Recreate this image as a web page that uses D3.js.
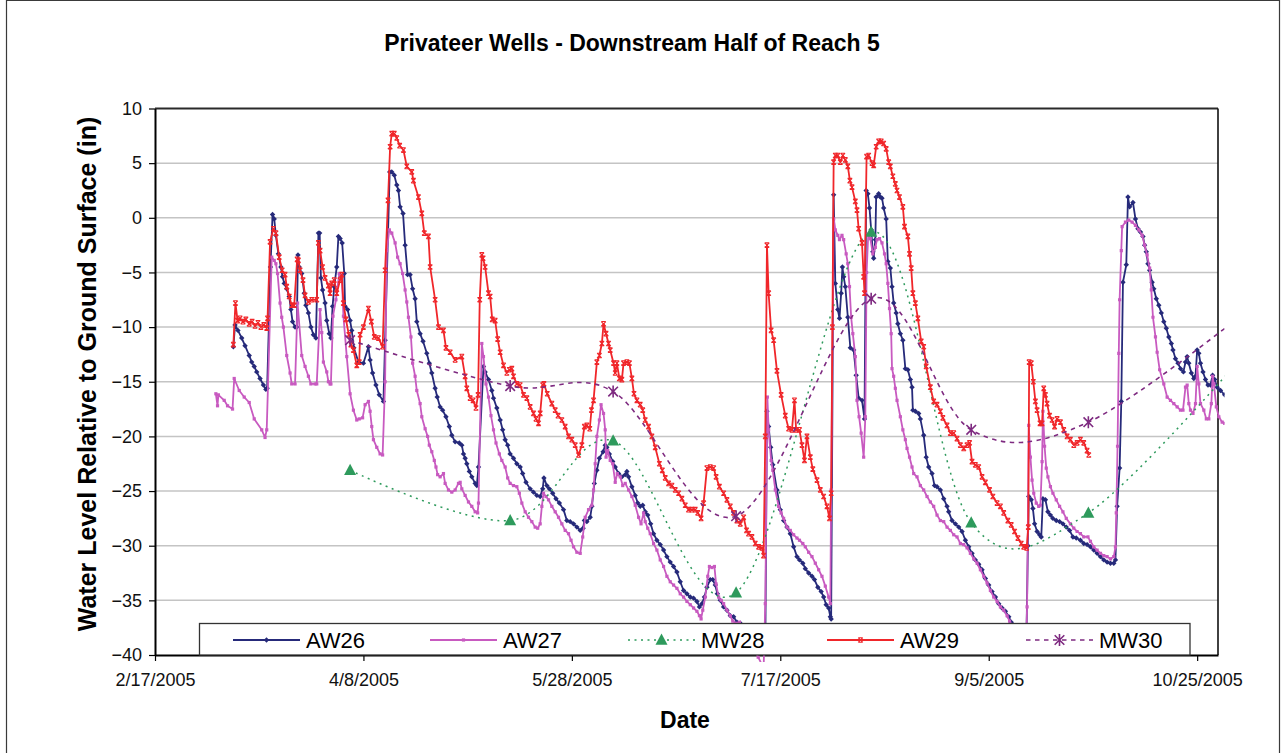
<!DOCTYPE html>
<html><head><meta charset="utf-8">
<script src="https://cdn.jsdelivr.net/npm/d3@7"></script>
<style>
html,body{margin:0;padding:0;background:#fff;}
svg{display:block;font-family:"Liberation Sans",Arial,Helvetica,sans-serif;}
</style></head><body>
<svg id="chart" width="1282" height="753"></svg>
<script>
// ---------------- data ----------------
const chartTitle = "Privateer Wells - Downstream Half of Reach 5";
const yAxisTitle = "Water Level Relative to Ground Surface (in)";
const xAxisTitle = "Date";
const axisStart = "2/17/2005";
const axisEnd = "10/30/2005";
const xTickLabels = ["2/17/2005","4/8/2005","5/28/2005","7/17/2005","9/5/2005","10/25/2005"];
const yTicks = [10,5,0,-5,-10,-15,-20,-25,-30,-35,-40];
const seriesNames = ["AW26","AW27","MW28","AW29","MW30"];

// [days after 2/17/2005, water level (in)]
const aw26 = [[18.8,-11.8],[19.2,-9.8],[19.9,-10.3],[20.8,-11.0],[21.6,-11.7],[22.6,-12.6],[23.2,-13.2],[23.8,-13.6],[24.4,-14.1],[25.2,-14.7],[26.0,-15.3],[26.6,-15.7],[26.9,-15.6],[27.7,-4.5],[28.2,0.3],[28.6,-0.1],[29.0,-1.6],[29.6,-3.3],[30.2,-4.5],[30.6,-5.4],[31.0,-6.0],[31.6,-6.5],[32.2,-7.2],[32.6,-8.4],[33.0,-9.5],[33.6,-10.0],[34.0,-10.0],[34.3,-3.4],[34.6,-4.5],[35.2,-5.1],[35.8,-6.9],[36.2,-8.0],[36.8,-8.7],[37.4,-10.0],[38.0,-10.7],[38.6,-11.0],[39.2,-1.4],[39.5,-1.4],[39.8,-5.5],[40.2,-6.6],[40.8,-7.8],[41.2,-9.4],[41.8,-10.6],[42.2,-11.0],[42.6,-8.1],[43.0,-6.3],[43.6,-4.5],[44.0,-1.7],[44.4,-1.9],[44.9,-2.3],[45.4,-5.1],[45.6,-8.1],[46.2,-8.4],[46.8,-9.4],[47.2,-10.3],[47.7,-11.9],[48.8,-13.2],[50.0,-13.3],[51.2,-11.8],[51.6,-13.0],[52.2,-14.2],[53.0,-15.3],[53.8,-16.2],[54.8,-16.8],[55.2,-11.2],[56.3,4.2],[56.8,4.2],[57.4,3.9],[58.0,3.0],[58.4,2.5],[58.8,1.0],[59.5,0.4],[60.0,-2.5],[60.6,-5.2],[61.2,-5.2],[61.8,-6.5],[62.4,-7.4],[62.8,-9.5],[63.6,-10.6],[64.3,-11.3],[65.2,-12.4],[65.8,-13.3],[66.4,-14.2],[67.2,-15.6],[67.7,-16.4],[68.4,-17.3],[69.0,-17.6],[69.8,-18.2],[70.6,-19.1],[71.2,-19.9],[72.0,-20.5],[73.0,-20.6],[73.6,-20.8],[74.0,-21.6],[74.4,-22.0],[74.8,-22.5],[75.4,-23.2],[76.0,-23.7],[76.8,-24.3],[77.2,-24.5],[77.6,-22.8],[78.8,-13.6],[79.2,-14.1],[80.0,-14.8],[80.8,-15.8],[81.2,-16.5],[82.0,-17.4],[82.8,-18.5],[83.4,-19.4],[84.0,-20.3],[84.6,-20.8],[85.2,-21.6],[86.0,-22.0],[86.8,-22.5],[87.6,-22.8],[88.2,-23.4],[89.0,-24.2],[90.0,-24.8],[90.8,-25.1],[91.6,-25.4],[92.4,-25.5],[93.0,-24.8],[93.3,-23.8],[94.0,-24.5],[94.6,-24.8],[95.4,-25.2],[96.2,-25.7],[97.0,-26.1],[98.0,-26.7],[98.8,-27.7],[99.6,-27.8],[100.4,-28.0],[101.2,-28.3],[102.0,-28.6],[102.7,-28.4],[103.0,-27.7],[103.6,-27.8],[104.4,-27.4],[104.8,-26.4],[105.4,-24.3],[106.0,-23.1],[106.6,-22.0],[107.5,-21.4],[108.0,-20.8],[108.4,-21.0],[109.0,-21.6],[109.8,-22.3],[110.4,-22.8],[111.2,-23.4],[112.0,-23.7],[112.8,-23.5],[113.2,-23.2],[113.6,-23.7],[114.4,-24.6],[115.2,-25.4],[115.8,-26.1],[116.4,-26.4],[117.0,-26.3],[117.6,-26.9],[118.2,-27.2],[118.9,-28.0],[119.6,-28.9],[120.4,-29.5],[121.2,-29.9],[122.0,-30.4],[122.8,-31.0],[123.6,-31.5],[124.4,-31.9],[125.2,-32.4],[126.0,-33.3],[126.8,-34.1],[127.6,-34.4],[128.4,-34.7],[129.2,-34.8],[130.0,-35.1],[130.6,-35.6],[131.2,-35.3],[131.8,-34.7],[132.4,-33.8],[133.2,-33.1],[133.8,-33.1],[134.4,-33.6],[134.9,-34.4],[135.6,-35.0],[136.4,-35.6],[137.2,-35.9],[138.0,-36.4],[138.8,-36.5],[139.6,-37.0],[140.4,-37.1],[141.9,-37.8],[143.3,-38.5],[144.8,-39.2],[145.9,-39.6],[146.4,-39.8],[146.8,-17.7],[147.2,-19.1],[147.7,-21.0],[148.2,-22.6],[149.2,-24.9],[150.0,-26.7],[150.8,-27.7],[151.6,-28.3],[152.4,-28.9],[153.2,-30.1],[154.0,-31.0],[154.6,-31.3],[155.4,-31.6],[156.0,-32.1],[156.8,-32.5],[157.6,-32.8],[158.2,-33.1],[159.0,-33.8],[159.8,-34.2],[160.4,-34.7],[161.0,-35.4],[161.6,-35.7],[162.0,-36.5],[162.2,-36.7],[162.8,2.1],[163.2,-6.0],[163.8,-8.4],[164.2,-9.2],[164.6,-6.9],[164.9,-4.5],[165.2,-5.4],[165.6,-6.3],[166.2,-9.1],[166.8,-11.9],[167.6,-12.1],[168.2,-14.4],[168.8,-16.5],[169.6,-16.7],[170.2,-18.4],[170.6,2.5],[171.0,2.2],[171.4,0.9],[171.8,-1.1],[172.2,-3.1],[172.4,-3.7],[172.8,-2.0],[173.0,1.9],[173.6,2.2],[174.0,1.9],[174.4,1.8],[174.8,0.9],[175.4,-0.1],[175.8,-4.0],[176.4,-4.6],[176.8,-6.3],[177.2,-7.8],[177.8,-8.7],[178.2,-9.7],[178.8,-10.6],[179.4,-11.2],[180.0,-13.8],[180.6,-13.9],[181.2,-14.8],[181.6,-15.5],[181.8,-17.6],[182.4,-17.7],[183.2,-17.9],[183.6,-18.4],[184.4,-19.9],[185.0,-21.9],[185.6,-22.8],[186.4,-23.4],[187.0,-24.5],[187.6,-24.6],[188.4,-24.9],[189.2,-25.7],[190.0,-26.4],[190.4,-26.9],[191.2,-27.7],[192.0,-28.0],[192.8,-28.3],[193.6,-28.7],[194.4,-29.5],[195.2,-30.1],[196.0,-30.7],[196.8,-31.3],[197.6,-31.7],[198.4,-32.2],[199.2,-33.0],[200.0,-33.6],[200.8,-34.2],[201.6,-34.7],[202.4,-35.3],[203.2,-35.7],[204.0,-36.0],[204.8,-36.5],[205.4,-37.0],[206.6,-37.8],[208.0,-38.8],[209.0,-39.5],[209.4,-30.0],[209.6,-25.5],[210.2,-25.8],[210.6,-26.6],[211.0,-28.0],[211.6,-28.7],[212.2,-29.0],[212.6,-29.2],[213.0,-25.7],[213.6,-25.8],[214.2,-26.9],[214.8,-27.2],[215.4,-27.5],[216.2,-27.7],[217.0,-27.8],[217.8,-28.0],[218.6,-28.3],[219.4,-28.6],[220.2,-29.2],[221.0,-29.3],[222.0,-29.5],[222.8,-29.8],[223.6,-29.9],[224.4,-30.1],[225.2,-30.4],[226.0,-30.7],[226.8,-31.0],[227.6,-31.3],[228.4,-31.5],[229.2,-31.6],[230.0,-31.6],[230.4,-31.3],[230.8,-26.4],[231.4,-22.9],[231.8,-16.8],[232.2,-5.9],[233.0,-4.3],[233.4,1.9],[233.8,1.0],[234.6,1.4],[235.2,-0.1],[235.8,-1.0],[236.4,-1.3],[237.0,-1.7],[237.4,-2.5],[237.8,-3.1],[238.2,-4.2],[238.6,-4.8],[239.2,-5.9],[239.6,-6.5],[240.2,-7.4],[240.8,-8.0],[241.4,-8.7],[242.0,-9.5],[242.6,-10.1],[243.2,-10.9],[243.8,-11.5],[244.2,-12.1],[244.8,-12.9],[245.4,-13.3],[246.0,-13.8],[246.7,-14.1],[247.2,-13.2],[247.6,-12.7],[248.0,-13.3],[248.6,-14.2],[249.2,-14.7],[249.6,-14.5],[250.0,-12.1],[250.4,-12.4],[250.8,-13.3],[251.4,-14.1],[252.0,-14.8],[252.6,-15.3],[253.2,-15.3],[253.7,-14.4],[254.2,-14.8],[254.8,-15.5],[255.6,-15.8],[256.6,-16.2]];

const aw27 = [[14.6,-16.1],[15.0,-17.2],[15.2,-16.2],[16.6,-16.7],[17.4,-17.2],[18.6,-17.5],[19.0,-14.7],[20.2,-15.8],[21.4,-16.4],[22.6,-16.9],[23.8,-18.4],[25.6,-19.4],[26.4,-20.1],[26.8,-19.4],[28.0,-3.6],[28.6,-3.9],[29.0,-4.2],[29.4,-5.1],[30.0,-7.8],[30.4,-9.1],[30.8,-10.0],[31.6,-12.6],[32.4,-14.2],[32.8,-15.2],[33.6,-15.2],[34.2,-7.8],[35.2,-12.6],[36.0,-13.6],[36.8,-14.5],[37.4,-15.2],[38.4,-15.2],[38.8,-15.2],[39.6,-8.4],[40.0,-10.5],[40.4,-13.2],[41.2,-14.1],[41.6,-15.0],[42.0,-15.2],[42.2,-15.2],[42.7,-9.0],[43.4,-7.5],[44.2,-5.1],[44.8,-5.3],[45.2,-9.0],[46.0,-12.7],[46.8,-16.1],[47.6,-17.6],[48.4,-18.5],[49.0,-18.4],[49.8,-18.3],[50.4,-17.1],[51.2,-16.8],[51.6,-17.7],[52.0,-19.1],[52.4,-20.3],[53.2,-21.0],[54.0,-21.6],[54.6,-21.7],[55.2,-15.0],[55.6,-3.0],[56.2,-1.1],[56.8,-1.4],[57.6,-2.3],[58.2,-3.6],[58.8,-4.2],[59.4,-5.1],[60.0,-6.6],[60.4,-7.7],[60.8,-9.1],[61.4,-10.9],[61.8,-13.3],[62.4,-14.5],[62.8,-15.8],[63.6,-17.0],[64.0,-18.2],[64.8,-19.3],[65.4,-20.0],[65.8,-20.8],[66.4,-21.4],[67.0,-22.2],[67.4,-22.8],[67.8,-23.5],[68.4,-23.7],[69.2,-23.4],[69.6,-24.3],[70.4,-24.9],[71.2,-25.1],[72.0,-24.9],[72.8,-24.3],[73.2,-24.2],[73.6,-24.8],[74.4,-25.4],[75.2,-26.0],[76.0,-26.4],[76.8,-26.9],[77.4,-27.0],[77.6,-26.1],[78.4,-11.5],[78.8,-12.7],[79.4,-15.2],[80.0,-16.4],[80.6,-18.1],[81.2,-19.4],[81.8,-20.6],[82.6,-21.6],[83.2,-22.2],[84.0,-22.8],[84.6,-23.8],[85.2,-24.3],[86.0,-24.5],[86.8,-24.6],[87.4,-25.2],[88.0,-26.1],[88.8,-26.9],[89.6,-27.4],[90.4,-27.8],[91.2,-28.3],[91.8,-28.4],[92.4,-28.0],[92.8,-26.4],[93.2,-25.2],[93.8,-25.5],[94.4,-25.8],[95.2,-26.4],[96.0,-26.9],[96.8,-27.4],[97.6,-28.0],[98.4,-28.6],[99.2,-28.9],[99.8,-29.5],[100.4,-30.1],[101.2,-30.6],[102.0,-30.7],[102.6,-29.2],[103.2,-27.4],[104.0,-26.7],[104.8,-26.3],[105.2,-24.9],[105.6,-22.5],[106.0,-20.0],[106.6,-18.5],[107.0,-17.1],[107.6,-17.9],[108.0,-19.4],[108.2,-21.9],[108.6,-21.3],[109.2,-22.2],[109.8,-22.5],[110.4,-24.2],[110.9,-23.4],[111.6,-23.7],[112.2,-24.5],[112.8,-24.3],[113.6,-24.9],[114.4,-25.5],[115.2,-26.3],[116.0,-27.4],[116.6,-28.0],[117.2,-27.0],[117.6,-27.8],[118.2,-28.4],[118.8,-28.9],[119.6,-29.8],[120.4,-30.4],[121.2,-31.3],[122.0,-31.9],[122.8,-32.8],[123.6,-33.3],[124.4,-33.6],[125.2,-33.9],[126.0,-34.4],[126.8,-34.7],[127.6,-35.1],[128.4,-35.4],[129.2,-35.7],[130.0,-36.0],[130.6,-36.4],[131.0,-36.7],[131.4,-35.9],[132.0,-34.7],[132.6,-32.8],[133.0,-31.9],[133.6,-32.0],[134.2,-31.9],[134.6,-33.5],[135.2,-34.7],[135.8,-35.0],[136.4,-35.3],[137.2,-35.9],[138.0,-36.4],[138.6,-36.9],[139.4,-37.1],[140.2,-37.0],[141.6,-38.0],[143.3,-39.2],[144.7,-40.2],[146.0,-41.2],[146.4,-35.3],[146.9,-16.4],[147.2,-19.4],[147.8,-22.2],[148.2,-23.1],[148.8,-24.9],[149.6,-26.4],[150.2,-27.0],[150.8,-27.5],[151.6,-28.3],[152.4,-28.6],[153.2,-29.0],[154.0,-29.3],[154.6,-29.5],[155.4,-29.8],[156.0,-30.1],[156.8,-30.6],[157.6,-31.0],[158.4,-31.6],[159.2,-32.2],[160.0,-32.8],[160.8,-33.7],[161.6,-34.7],[162.0,-35.3],[162.2,-24.9],[162.8,-0.1],[163.2,-1.1],[163.8,-1.6],[164.2,-2.0],[164.8,-1.6],[165.2,-2.0],[165.8,-3.3],[166.2,-4.2],[166.6,-6.3],[167.0,-9.1],[167.4,-10.6],[168.0,-12.7],[168.4,-16.7],[168.9,-18.2],[169.4,-19.7],[170.0,-21.9],[170.4,-18.2],[170.7,-5.0],[171.1,-1.5],[171.6,-1.9],[172.2,-3.3],[172.8,-2.7],[173.2,-2.0],[173.8,-1.9],[174.4,-2.3],[175.0,-3.3],[175.4,-4.2],[175.8,-6.0],[176.2,-8.3],[176.6,-10.6],[176.8,-13.8],[177.2,-14.5],[177.6,-15.6],[178.0,-16.7],[178.8,-18.2],[179.4,-19.4],[180.0,-20.3],[180.4,-21.1],[181.0,-21.9],[181.6,-22.8],[182.0,-23.4],[182.8,-23.7],[183.6,-24.5],[184.4,-24.9],[185.2,-25.5],[186.0,-26.0],[186.8,-26.4],[187.6,-27.2],[188.4,-27.7],[189.2,-27.8],[190.0,-28.3],[190.8,-28.6],[191.6,-29.0],[192.4,-29.2],[193.2,-29.8],[194.0,-29.9],[194.8,-30.2],[195.6,-30.7],[196.4,-31.2],[197.2,-31.6],[198.0,-32.2],[198.8,-32.8],[199.6,-33.4],[200.4,-34.1],[201.2,-34.7],[202.0,-35.1],[202.8,-35.6],[203.6,-35.9],[204.4,-36.4],[205.0,-36.9],[206.4,-37.8],[207.8,-38.8],[208.9,-39.5],[209.2,-35.6],[209.6,-19.0],[210.0,-21.9],[210.4,-24.0],[210.8,-25.2],[211.4,-26.1],[212.0,-26.4],[212.4,-26.3],[212.8,-22.3],[213.0,-17.7],[213.4,-20.9],[213.8,-22.9],[214.2,-23.7],[214.8,-24.6],[215.4,-25.2],[216.2,-25.8],[217.0,-26.4],[217.8,-26.9],[218.6,-27.5],[219.6,-28.0],[220.4,-28.4],[221.2,-28.7],[222.0,-28.9],[222.8,-29.2],[223.8,-29.2],[224.4,-29.6],[225.2,-30.1],[226.0,-30.4],[226.8,-30.7],[227.6,-30.9],[228.4,-31.0],[229.2,-31.2],[230.0,-31.0],[230.4,-30.1],[230.6,-27.0],[230.9,-20.9],[231.2,-12.4],[231.4,-7.5],[231.8,-3.0],[232.0,-0.8],[232.8,-0.4],[233.6,-0.2],[234.4,-0.4],[235.2,-0.7],[236.0,-1.1],[236.8,-1.6],[237.4,-2.5],[238.0,-3.4],[238.6,-4.6],[239.0,-6.6],[239.4,-9.1],[240.0,-10.9],[240.4,-12.3],[241.0,-13.9],[242.0,-15.2],[242.8,-16.4],[243.6,-16.7],[244.4,-17.0],[245.2,-17.3],[246.0,-17.6],[246.6,-17.6],[247.2,-15.5],[247.6,-15.3],[248.0,-17.0],[248.4,-17.6],[249.0,-17.9],[249.6,-17.0],[250.0,-13.6],[250.4,-15.2],[250.8,-17.0],[251.6,-17.6],[252.2,-18.4],[252.8,-18.4],[253.4,-17.0],[253.7,-14.5],[254.0,-15.2],[254.6,-17.3],[255.2,-18.2],[256.0,-18.7],[256.6,-18.8]];

const mw28 = [[46.8,-23.1],[85.2,-27.7],[109.9,-20.4],[139.4,-34.3],[171.8,-1.3],[195.8,-27.9],[223.9,-27.0],[267,-10.0]];

const aw29 = [[18.8,-11.6],[19.3,-7.8],[19.8,-9.4],[20.4,-9.2],[21.1,-9.5],[21.8,-9.3],[22.6,-9.7],[23.3,-9.5],[24.0,-9.9],[24.7,-9.6],[25.4,-10.0],[26.1,-9.8],[26.8,-10.1],[27.0,-9.2],[27.6,-2.2],[28.4,-1.0],[29.0,-1.4],[29.8,-3.6],[30.5,-4.8],[31.2,-5.2],[31.6,-6.3],[32.2,-7.2],[32.8,-8.0],[33.4,-8.0],[34.1,-3.8],[34.4,-3.9],[34.8,-4.8],[35.5,-5.7],[36.0,-7.1],[36.8,-7.7],[37.6,-7.5],[38.8,-7.5],[39.2,-2.3],[39.6,-3.0],[40.2,-4.5],[40.8,-5.5],[41.6,-6.2],[42.0,-6.9],[42.4,-6.0],[43.0,-5.7],[43.6,-6.9],[44.4,-5.7],[44.8,-5.2],[45.2,-7.8],[45.8,-9.3],[46.5,-10.7],[47.0,-11.6],[47.6,-12.1],[48.4,-13.5],[49.0,-13.2],[49.2,-10.7],[50.0,-10.0],[51.2,-8.3],[51.9,-9.5],[52.6,-10.9],[53.6,-11.0],[54.6,-11.8],[55.2,-4.8],[55.9,1.6],[56.4,6.5],[56.8,7.7],[57.4,7.7],[58.0,7.3],[58.7,6.6],[59.6,6.2],[60.4,4.7],[61.6,4.2],[62.0,3.4],[63.2,1.9],[64.0,0.4],[64.6,-1.4],[65.6,-1.7],[66.0,-4.5],[67.2,-7.5],[68.0,-10.0],[69.2,-10.3],[69.8,-11.9],[70.8,-12.3],[72.0,-13.0],[73.6,-12.7],[74.4,-14.5],[74.8,-15.6],[75.6,-16.5],[76.3,-16.7],[77.0,-17.4],[77.5,-16.2],[77.9,-7.5],[78.4,-3.4],[78.7,-3.7],[79.2,-4.5],[80.0,-6.9],[80.4,-7.2],[80.9,-9.3],[81.6,-9.4],[82.2,-11.1],[82.8,-12.3],[83.6,-13.5],[84.4,-14.2],[85.0,-13.9],[85.6,-13.8],[86.0,-14.5],[86.8,-15.2],[87.6,-15.3],[88.4,-16.2],[89.2,-16.5],[90.0,-17.3],[90.8,-17.9],[91.4,-18.4],[92.0,-18.8],[92.4,-17.9],[93.0,-15.3],[93.3,-15.2],[94.1,-16.1],[95.2,-17.0],[96.0,-17.6],[96.7,-18.1],[97.6,-18.5],[98.4,-19.1],[99.2,-20.0],[100.0,-20.3],[100.8,-20.8],[101.6,-21.7],[102.4,-20.8],[103.0,-19.1],[103.6,-19.0],[104.3,-19.3],[104.7,-17.6],[105.2,-16.7],[106.0,-13.2],[106.6,-12.6],[107.2,-11.5],[107.6,-9.7],[108.2,-10.6],[108.8,-11.5],[109.2,-12.1],[110.0,-13.3],[110.4,-14.2],[110.8,-13.3],[111.4,-14.7],[112.0,-14.8],[112.4,-13.3],[113.2,-13.2],[113.8,-13.3],[114.4,-14.7],[114.9,-16.1],[115.6,-16.7],[116.4,-17.1],[117.0,-17.6],[117.6,-18.5],[118.4,-19.1],[119.2,-20.0],[120.0,-21.0],[121.0,-22.5],[121.7,-23.1],[122.4,-23.8],[123.2,-24.3],[124.0,-24.5],[124.8,-24.9],[125.6,-25.2],[126.4,-25.7],[127.2,-26.3],[128.0,-26.7],[128.8,-26.7],[129.6,-26.7],[130.2,-27.0],[131.0,-27.5],[131.6,-26.1],[132.4,-22.9],[133.2,-22.8],[134.0,-22.9],[134.6,-23.7],[135.4,-24.6],[136.4,-25.2],[137.2,-25.8],[138.0,-26.4],[138.8,-27.0],[139.6,-27.7],[140.4,-28.0],[141.2,-27.4],[141.9,-28.6],[142.4,-28.9],[143.2,-29.2],[144.0,-29.8],[144.8,-30.1],[145.6,-30.2],[146.0,-30.9],[146.4,-20.0],[146.8,-2.5],[147.2,-6.9],[147.8,-10.3],[148.4,-11.2],[149.2,-14.0],[150.2,-16.2],[151.2,-18.1],[152.0,-19.3],[152.8,-19.4],[153.4,-16.7],[153.8,-19.4],[154.6,-19.4],[155.2,-20.8],[155.8,-22.2],[156.4,-20.0],[157.2,-21.9],[157.8,-23.0],[158.8,-24.0],[159.6,-24.9],[160.4,-25.5],[161.2,-26.4],[161.8,-27.5],[162.2,-25.2],[162.5,-10.0],[162.8,5.1],[163.2,5.7],[163.8,5.7],[164.4,5.1],[165.0,5.7],[165.6,5.3],[166.2,4.7],[166.7,3.4],[167.2,2.8],[168.0,1.5],[168.4,0.7],[168.8,-1.0],[169.6,-2.3],[170.0,-5.4],[170.2,-6.9],[170.7,5.6],[171.2,5.7],[172.0,5.0],[172.4,4.8],[173.0,6.5],[173.6,7.0],[174.2,7.0],[174.8,6.8],[175.4,6.3],[176.0,5.1],[176.4,4.7],[177.0,3.8],[177.6,3.1],[178.0,2.5],[178.6,1.9],[179.4,1.0],[179.8,-0.8],[180.6,-1.7],[181.0,-3.3],[181.4,-4.6],[181.8,-6.9],[182.4,-7.8],[183.0,-9.2],[183.8,-11.3],[184.4,-11.8],[185.0,-13.6],[186.0,-15.5],[186.8,-16.8],[187.6,-17.1],[188.4,-17.7],[189.0,-18.3],[190.0,-19.0],[190.8,-19.7],[191.6,-19.7],[192.4,-20.2],[193.2,-20.8],[194.0,-21.1],[194.8,-20.8],[195.4,-20.6],[196.0,-22.3],[196.8,-22.6],[197.6,-22.8],[198.4,-23.7],[199.2,-24.2],[200.2,-24.9],[201.0,-25.5],[202.0,-26.1],[202.8,-26.4],[203.6,-27.0],[204.6,-27.7],[205.4,-28.1],[206.2,-28.7],[207.0,-29.3],[207.8,-29.8],[208.4,-30.1],[209.1,-30.2],[209.5,-28.3],[209.7,-13.2],[210.2,-13.3],[210.7,-15.0],[211.2,-16.8],[211.6,-17.6],[212.3,-18.8],[212.8,-18.8],[213.2,-15.6],[213.6,-16.2],[214.0,-17.0],[214.6,-18.1],[215.2,-18.5],[215.8,-19.1],[216.4,-18.4],[217.2,-18.7],[218.0,-19.4],[218.8,-20.0],[219.6,-20.3],[220.4,-20.8],[221.2,-20.6],[222.0,-20.3],[222.8,-20.6],[223.6,-21.3],[224.0,-21.7]];

const mw30 = [[46.8,-11.2],[85.2,-15.4],[109.9,-15.9],[139.4,-27.3],[171.8,-7.4],[195.8,-19.4],[223.9,-18.7],[267,-7.0]];

// ---------------- drawing ----------------
const svg = d3.select("#chart");
const W = 1282, H = 753;
const plot = {left:155, right:1218, top:108.5, bottom:655};

svg.append("rect").attr("width",W).attr("height",H).attr("fill","#fff");
// outer chart border
svg.append("path").attr("d",`M6.5,${H}V0.5H1279.5V${H}`).attr("fill","none").attr("stroke","#3a3a3a").attr("stroke-width",1.2);

const parse = d3.timeParse("%m/%d/%Y");
const t0 = parse(axisStart);
const dayOf = s => (parse(s) - t0) / 86400000;

const x = d3.scaleLinear().domain([0, dayOf(axisEnd)]).range([plot.left, plot.right]);
const y = d3.scaleLinear().domain([-40, 10]).range([plot.bottom, plot.top]);

// gridlines
svg.append("g").selectAll("line").data(yTicks.filter(v => v > -40 && v < 10)).join("line")
  .attr("x1", plot.left).attr("x2", plot.right)
  .attr("y1", d => y(d)).attr("y2", d => y(d))
  .attr("stroke", "#c4c4c4").attr("stroke-width", 1.5);

// top and right border of plot area
svg.append("line").attr("x1",plot.left).attr("x2",plot.right).attr("y1",y(10)).attr("y2",y(10))
  .attr("stroke","#2a2a2a").attr("stroke-width",2);
svg.append("line").attr("x1",plot.right).attr("x2",plot.right).attr("y1",plot.top).attr("y2",plot.bottom)
  .attr("stroke","#111").attr("stroke-width",1.6);

// axes
const yAxis = d3.axisLeft(y).tickValues(yTicks).tickSize(6).tickSizeOuter(0).tickPadding(7);
const gy = svg.append("g").attr("transform",`translate(${plot.left},0)`).call(yAxis);
gy.select(".domain").attr("stroke","#000").attr("stroke-width",2);
gy.selectAll(".tick line").attr("stroke","#000").attr("stroke-width",1.2);
gy.selectAll(".tick text").attr("font-size",18).attr("fill","#111")
  .attr("font-family",'"Liberation Sans",Arial,sans-serif');

const xAxis = d3.axisBottom(x).tickValues(xTickLabels.map(dayOf))
  .tickFormat((d,i) => xTickLabels[i]).tickSize(6).tickSizeOuter(0).tickPadding(12);
const gx = svg.append("g").attr("transform",`translate(0,${plot.bottom})`).call(xAxis);
gx.select(".domain").attr("stroke","#000").attr("stroke-width",2);
gx.selectAll(".tick line").attr("stroke","#000").attr("stroke-width",1.2);
gx.selectAll(".tick text").attr("font-size",18).attr("fill","#111")
  .attr("font-family",'"Liberation Sans",Arial,sans-serif');

// titles
svg.append("text").attr("x",632).attr("y",51).attr("text-anchor","middle")
  .attr("font-size",23).attr("font-weight","bold").attr("fill","#000").text(chartTitle);
svg.append("text").attr("transform","translate(96,374) rotate(-90)").attr("text-anchor","middle")
  .attr("font-size",25).attr("font-weight","bold").attr("fill","#000").text(yAxisTitle);
svg.append("text").attr("x",685).attr("y",728).attr("text-anchor","middle")
  .attr("font-size",23).attr("font-weight","bold").attr("fill","#000").text(xAxisTitle);

// series
svg.append("clipPath").attr("id","clip").append("rect")
  .attr("x",plot.left).attr("y",plot.top-8).attr("width",1224.5-plot.left).attr("height",662-(plot.top-8));
const gs = svg.append("g").attr("clip-path","url(#clip)");

const styles = {
  AW26:{data:aw26,color:"#262a7a",width:1.8,dash:null,curve:d3.curveLinear,
        marker:"M0,-2.7L2.7,0L0,2.7L-2.7,0Z",fill:true},
  AW27:{data:aw27,color:"#c85ac0",width:1.8,dash:null,curve:d3.curveLinear,
        marker:"M-1.6,-1.6h3.2v3.2h-3.2Z",fill:true},
  MW28:{data:mw28,color:"#2e9a5c",width:1.5,dash:"2,4.5",curve:d3.curveCardinal.tension(0),
        marker:"M0,-6.5L6,4.8L-6,4.8Z",fill:true},
  AW29:{data:aw29,color:"#f0262a",width:1.8,dash:null,curve:d3.curveLinear,
        marker:"M-2.3,-2.3L2.3,2.3M2.3,-2.3L-2.3,2.3M-2.3,-2.3H2.3M-2.3,2.3H2.3",fill:false,mw:1.1},
  MW30:{data:mw30,color:"#7e2a80",width:1.6,dash:"4.5,4.5",curve:d3.curveCardinal.tension(0),
        marker:"M-4.8,-4.8L4.8,4.8M4.8,-4.8L-4.8,4.8M0,-6V6",fill:false,mw:1.6}
};

seriesNames.forEach(name => {
  const s = styles[name];
  const line = d3.line().x(d => x(d[0])).y(d => y(d[1])).curve(s.curve);
  gs.append("path").datum(s.data).attr("d", line)
    .attr("fill","none").attr("stroke",s.color).attr("stroke-width",s.width)
    .attr("stroke-linejoin","round")
    .attr("stroke-dasharray", s.dash);
  gs.append("g").selectAll("path").data(s.data).join("path")
    .attr("transform", d => `translate(${x(d[0])},${y(d[1])})`)
    .attr("d", s.marker)
    .attr("fill", s.fill ? s.color : "none")
    .attr("stroke", s.fill ? "none" : s.color)
    .attr("stroke-width", s.mw || 1);
});

// legend
const lg = svg.append("g");
lg.append("rect").attr("x",199.5).attr("y",623.5).attr("width",990.5).attr("height",31.5)
  .attr("fill","#fff").attr("stroke","#333").attr("stroke-width",1.3);
const legendX = [233, 430, 628, 827, 1026];
seriesNames.forEach((name,i) => {
  const s = styles[name];
  const lx = legendX[i], ly = 640;
  lg.append("line").attr("x1",lx).attr("x2",lx+67).attr("y1",ly).attr("y2",ly)
    .attr("stroke",s.color).attr("stroke-width",s.width).attr("stroke-dasharray",s.dash);
  lg.append("path").attr("transform",`translate(${lx+33.5},${ly})`).attr("d",s.marker)
    .attr("fill", s.fill ? s.color : "none")
    .attr("stroke", s.fill ? "none" : s.color)
    .attr("stroke-width", s.mw || 1);
  lg.append("text").attr("x",lx+73).attr("y",ly+7.8).attr("font-size",22).attr("fill","#000").text(name);
});
</script>
</body></html>
